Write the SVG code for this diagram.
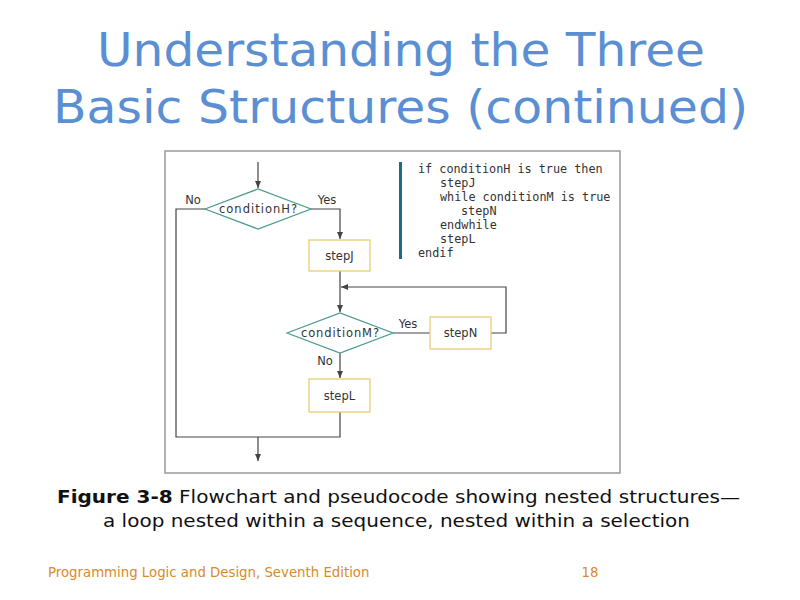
<svg xmlns="http://www.w3.org/2000/svg" width="800" height="600" viewBox="0 0 800 600">
<style>
.t{font-family:"DejaVu Sans",sans-serif}
.m{font-family:"DejaVu Sans Mono",monospace;font-size:11.8px;fill:#333}
.ln{stroke:#444;stroke-width:1.2;fill:none}
.box{fill:#fff;stroke:#e8c96a;stroke-width:1.2}
.dia{fill:#fff;stroke:#4a9a8e;stroke-width:1.2}
.lb{font-family:"DejaVu Sans",sans-serif;font-size:11.5px;fill:#333}
</style>
<defs><marker id="a" markerWidth="8" markerHeight="8" refX="7" refY="4" orient="auto" markerUnits="userSpaceOnUse"><path d="M0,1 L7,4 L0,7 Z" fill="#444"/></marker></defs>
<rect width="800" height="600" fill="#fff"/>
<text class="t" x="97" y="66" textLength="608" lengthAdjust="spacingAndGlyphs" font-size="47" fill="#5a8fd4">Understanding the Three</text>
<text class="t" x="53" y="123" textLength="695" lengthAdjust="spacingAndGlyphs" font-size="47" fill="#5a8fd4">Basic Structures (continued)</text>
<rect x="165" y="151" width="455" height="322" fill="#fff" stroke="#999" stroke-width="1.5"/>
<g id="connectors">
<path class="ln" d="M258,162 V188" marker-end="url(#a)"/>
<path class="ln" d="M311,209 H340 V239" marker-end="url(#a)"/>
<path class="ln" d="M340,271 V312" marker-end="url(#a)"/>
<path class="ln" d="M393,333 H430"/>
<path class="ln" d="M491,333 H506 V287 H341" marker-end="url(#a)"/>
<path class="ln" d="M340,353 V378" marker-end="url(#a)"/>
<path class="ln" d="M340,412 V437 H176 V209 H205"/>
<path class="ln" d="M258,437 V461" marker-end="url(#a)"/>
</g>
<g id="condH"><polygon class="dia" points="205,209 258,189 311,209 258,229"/><text class="lb" x="258" y="213" text-anchor="middle" textLength="78">conditionH?</text>
<text class="lb" x="193" y="204" text-anchor="middle">No</text><text class="lb" x="327" y="204" text-anchor="middle">Yes</text></g>
<g id="stepJ"><rect class="box" x="309" y="240" width="61" height="31"/><text class="lb" x="339.5" y="260" text-anchor="middle">stepJ</text></g>
<g id="condM"><polygon class="dia" points="287,333 340,313 393,333 340,353"/><text class="lb" x="340" y="337" text-anchor="middle" textLength="78">conditionM?</text>
<text class="lb" x="408" y="328" text-anchor="middle">Yes</text><text class="lb" x="325" y="365" text-anchor="middle">No</text></g>
<g id="stepN"><rect class="box" x="430" y="317" width="61" height="32"/><text class="lb" x="460.5" y="337" text-anchor="middle">stepN</text></g>
<g id="stepL"><rect class="box" x="309" y="379" width="61" height="33"/><text class="lb" x="339.5" y="400" text-anchor="middle">stepL</text></g>
<g id="pseudo">
<rect x="399" y="162" width="3" height="97" fill="#1a6a8a"/>
<text class="m" x="418" y="173">if conditionH is true then</text>
<text class="m" x="440" y="187">stepJ</text>
<text class="m" x="440" y="201">while conditionM is true</text>
<text class="m" x="461" y="215">stepN</text>
<text class="m" x="440" y="229">endwhile</text>
<text class="m" x="440" y="243">stepL</text>
<text class="m" x="418" y="257">endif</text>
</g>
<text class="t" x="57" y="503" textLength="683" lengthAdjust="spacingAndGlyphs" font-size="18" fill="#111"><tspan font-weight="bold">Figure 3-8</tspan> Flowchart and pseudocode showing nested structures—</text>
<text class="t" x="103" y="527" textLength="587" lengthAdjust="spacingAndGlyphs" font-size="18" fill="#111">a loop nested within a sequence, nested within a selection</text>
<text class="t" x="48" y="577" font-size="13.3" fill="#d98a2a">Programming Logic and Design, Seventh Edition</text>
<text class="t" x="590" y="577" text-anchor="middle" font-size="13.3" fill="#d98a2a">18</text>
</svg>
